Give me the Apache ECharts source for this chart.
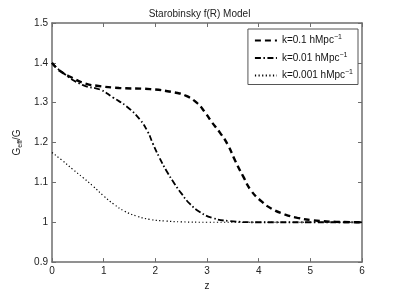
<!DOCTYPE html>
<html><head><meta charset="utf-8">
<script src="https://cdn.jsdelivr.net/npm/echarts@6/dist/echarts.min.js"></script>
<style>html,body{margin:0;padding:0;background:#fff}#c{width:399px;height:296px}</style>
</head><body><div id="c"></div>
<script>
var seriesNames = ['k=0.1 hMpc', 'k=0.01 hMpc', 'k=0.001 hMpc'];
var zA = [0,0.15,0.4,0.65,0.9,1.3,1.9,2.4,2.6,2.8,2.95,3.1,3.25,3.4,3.55,3.7,3.85,4.05,4.25,4.5,4.75,5.05,5.5,6];
var vA = [1.4,1.38,1.362,1.348,1.342,1.337,1.334,1.325,1.317,1.3,1.278,1.25,1.225,1.195,1.153,1.115,1.08,1.053,1.034,1.02,1.011,1.005,1.001,1.0];
var zB = [0,0.2,0.6,0.93,1.18,1.45,1.7,1.85,1.95,2.08,2.22,2.38,2.5,2.67,2.86,3.1,3.45,4,5,6];
var vB = [1.4,1.376,1.344,1.333,1.313,1.29,1.258,1.228,1.198,1.162,1.128,1.095,1.073,1.046,1.026,1.011,1.003,1.0,1.0,1.0];
var zC = [0,0.2,0.4,0.6,0.8,1.0,1.2,1.4,1.65,1.9,2.2,2.5,3,4,5,6];
var vC = [1.175,1.155,1.133,1.112,1.09,1.066,1.045,1.028,1.015,1.007,1.003,1.001,1.0,1.0,1.0,1.0];
var xTicks = [0,1,2,3,4,5,6];
var yTicks = [0.9,1,1.1,1.2,1.3,1.4,1.5];

function pairs(z, v){ return z.map(function(x,i){return [x, v[i]];}); }
var font = 'Liberation Sans, Arial, sans-serif';
var axisCol = '#6e6e6e';
function xAx(pos, labels){
  return {type:'value', position:pos, min:xTicks[0], max:xTicks[xTicks.length-1], interval:1,
    axisLine:{show:true, onZero:false, lineStyle:{color:axisCol, width:1.5}},
    axisTick:{show:true, inside:true, length:4, lineStyle:{color:axisCol}},
    axisLabel:{show:labels, color:'#222', fontSize:10, fontFamily:font, margin:4},
    splitLine:{show:false},
    name: labels ? 'z' : '', nameLocation:'middle', nameGap:16,
    nameTextStyle:{color:'#222', fontSize:10, fontFamily:font}};
}
function yAx(pos, labels){
  return {type:'value', position:pos, min:yTicks[0], max:yTicks[yTicks.length-1], interval:0.1,
    axisLine:{show:true, onZero:false, lineStyle:{color:axisCol, width:1.5}},
    axisTick:{show:true, inside:true, length:4, lineStyle:{color:axisCol}},
    axisLabel:{show:labels, color:'#222', fontSize:10, fontFamily:font, margin:4,
      formatter:function(v){ return String(Math.round(v*10)/10); }},
    splitLine:{show:false},
    name: labels ? 'G{sub|eff}/G' : '', nameLocation:'middle', nameGap:24, nameRotate:90,
    nameTextStyle:{color:'#222', fontSize:10, fontFamily:font,
      rich:{sub:{fontSize:7, verticalAlign:'bottom', padding:[4,0,0,0], fontFamily:font, color:'#222'}}}};
}
var chart = echarts.init(document.getElementById('c'), null, {renderer:'canvas'});
chart.setOption({
  backgroundColor:'#fff',
  animation:false,
  title:{text:'Starobinsky f(R) Model', left:'center', top:4,
    textStyle:{fontSize:10, fontWeight:'normal', color:'#222', fontFamily:font}},
  grid:{left:52, right:37, top:23, bottom:33},
  xAxis:[xAx('bottom', true), xAx('top', false)],
  yAxis:[yAx('left', true), yAx('right', false)],
  legend:{orient:'vertical', right:41, top:29, itemWidth:22, itemHeight:8, itemGap:6,
    padding:[5,5,4,6], borderColor:'#555', borderWidth:1, backgroundColor:'#fff',
    data:seriesNames, itemStyle:{opacity:0},
    formatter:function(n){ return n + '{sup|\u22121}'; },
    textStyle:{fontSize:10, color:'#111', fontFamily:font,
      rich:{sup:{fontSize:7, verticalAlign:'top', padding:[0,0,6,0], fontFamily:font, color:'#111'}}}},
  series:[
    {name:seriesNames[0], type:'line', data:pairs(zA,vA), smooth:0.5, showSymbol:false, symbol:'none',
      lineStyle:{color:'#000', width:2.4, type:[6,4]}, itemStyle:{color:'#000'}, z:3},
    {name:seriesNames[1], type:'line', data:pairs(zB,vB), smooth:0.5, showSymbol:false, symbol:'none',
      lineStyle:{color:'#000', width:1.8, type:[6,2.5,1.5,2.5]}, itemStyle:{color:'#000'}, z:2},
    {name:seriesNames[2], type:'line', data:pairs(zC,vC), smooth:0.5, showSymbol:false, symbol:'none',
      lineStyle:{color:'#000', width:1.2, type:[1.2,2.4]}, itemStyle:{color:'#000'}, z:1}
  ]
});
</script></body></html>
